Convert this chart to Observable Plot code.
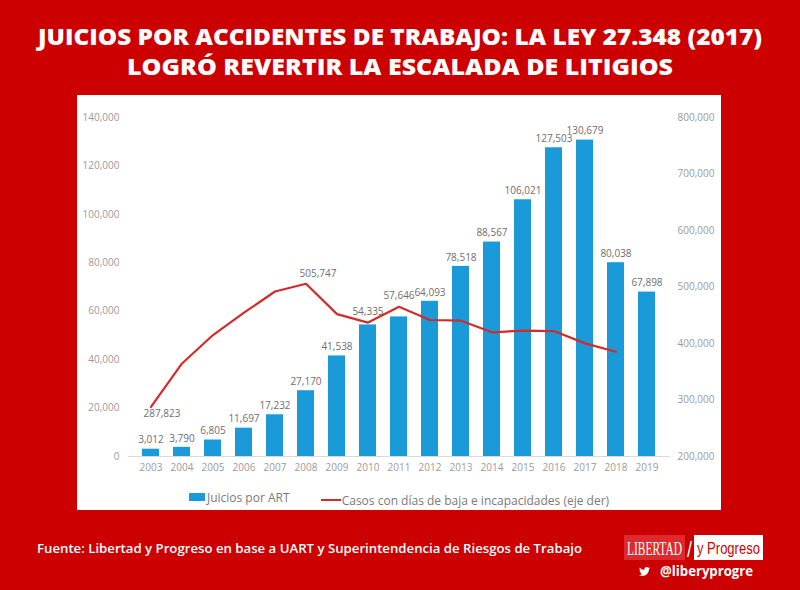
<!DOCTYPE html>
<html>
<head>
<meta charset="utf-8">
<script src="https://cdn.jsdelivr.net/npm/d3@7"></script>
<script src="https://cdn.jsdelivr.net/npm/@observablehq/plot@0.6"></script>
<style>
  html, body { margin: 0; padding: 0; }
  body { width: 800px; height: 590px; background: #cc0000; position: relative; overflow: hidden; font-family: "Open Sans", sans-serif; }
  #title { position: absolute; left: 0; top: 0; }
  #panel { position: absolute; left: 77px; top: 95px; width: 644px; height: 415px; background: #ffffff; }
  #chart { position: absolute; left: 0; top: 0; }
  #legend { position: absolute; left: 0; top: 393px; width: 644px; text-align: center; font-size: 12px; color: #7a7a7a; white-space: nowrap; }
  #legend .item { display: inline-flex; align-items: center; margin: 0 14px; }
  #legend .sw-bar { display: inline-block; width: 16px; height: 8px; background: #1a9ad8; margin-right: 2px; }
  #legend .sw-line { display: inline-block; width: 20px; height: 2px; background: #d42a2a; margin-right: 1px; }
  #source { position: absolute; left: 37px; top: 539px; color: #ffffff; font-size: 13.2px; font-weight: 600; white-space: nowrap; }
  #logo { position: absolute; left: 620px; top: 530px; }
</style>
</head>
<body>
<svg id="title" width="800" height="95">
  <text x="400" y="45" text-anchor="middle" fill="#fff" font-family="Open Sans" font-weight="800" font-size="22" textLength="724" lengthAdjust="spacingAndGlyphs">JUICIOS POR ACCIDENTES DE TRABAJO: LA LEY 27.348 (2017)</text>
  <text x="400" y="75" text-anchor="middle" fill="#fff" font-family="Open Sans" font-weight="800" font-size="22" textLength="546" lengthAdjust="spacingAndGlyphs">LOGRÓ REVERTIR LA ESCALADA DE LITIGIOS</text>
</svg>
<div id="panel">
  <div id="chart"></div>
  <div id="legend">
    <span class="item"><span class="sw-bar"></span>Juicios por ART</span>
    <span class="item"><span class="sw-line"></span>Casos con días de baja e incapacidades (eje der)</span>
  </div>
</div>
<div id="source">Fuente: Libertad y Progreso en base a UART y Superintendencia de Riesgos de Trabajo</div>
<svg id="logo" width="150" height="52">
  <rect x="4" y="5" width="61" height="25" fill="#dd2a2f"/>
  <text class="fit" data-x="7" data-y="25" data-w="55" fill="#fff" font-family="Liberation Serif" font-size="19">LIBERTAD</text>
  <text class="fit" data-x="67" data-y="27" data-w="5" fill="#fff" font-family="Liberation Sans" font-size="22">/</text>
  <rect x="74" y="5" width="69" height="25" fill="#ffffff"/>
  <text class="fit" data-x="77" data-y="24" data-w="63" fill="#cc0000" font-family="Liberation Sans" font-size="17">y Progreso</text>
  <g transform="translate(19,36) scale(0.46)">
    <path fill="#fff" d="M23.953 4.57a10 10 0 01-2.825.775 4.958 4.958 0 002.163-2.723c-.951.555-2.005.959-3.127 1.184a4.92 4.92 0 00-8.384 4.482C7.690 8.095 4.067 6.13 1.64 3.162a4.822 4.822 0 00-.666 2.475c0 1.71.87 3.213 2.188 4.096a4.904 4.904 0 01-2.228-.616v.06a4.923 4.923 0 003.946 4.827 4.996 4.996 0 01-2.212.085 4.936 4.936 0 004.604 3.417 9.867 9.867 0 01-6.102 2.105c-.39 0-.779-.023-1.17-.067a13.995 13.995 0 007.557 2.209c9.053 0 13.998-7.496 13.998-13.985 0-.21 0-.42-.015-.63A9.935 9.935 0 0024 4.59z"/>
  </g>
  <text class="fit" data-x="40" data-y="46" data-w="93" fill="#fff" font-family="Open Sans" font-weight="700" font-size="14">@liberyprogre</text>
</svg>
<script>
const years = ["2003","2004","2005","2006","2007","2008","2009","2010","2011","2012","2013","2014","2015","2016","2017","2018","2019"];
const juicios = [3012, 3790, 6805, 11697, 17232, 27170, 41538, 54335, 57646, 64093, 78518, 88567, 106021, 127503, 130679, 80038, 67898];
const casos = [287823, 364700, 415000, 454600, 492000, 505747, 452000, 437000, 465000, 441600, 440400, 419800, 422700, 422000, 400200, 385300, null];
const leftTicks = [0, 20000, 40000, 60000, 80000, 100000, 120000, 140000];
const rightTicks = [200000, 300000, 400000, 500000, 600000, 700000, 800000];
const lineLabelYears = ["2003", "2008"];

// fit logo texts to their boxes
document.querySelectorAll("#logo text.fit").forEach(el => {
  const w = el.getComputedTextLength();
  const target = +el.dataset.w;
  el.setAttribute("transform", `translate(${el.dataset.x},${el.dataset.y}) scale(${target / w},1)`);
});

const fmt = d3.format(",");
const L0 = leftTicks[0], L1 = leftTicks[leftTicks.length - 1];
const R0 = rightTicks[0], R1 = rightTicks[rightTicks.length - 1];
const toLeft = v => L0 + (v - R0) * (L1 - L0) / (R1 - R0);
const fromLeft = v => R0 + (v - L0) * (R1 - R0) / (L1 - L0);

const bars = years.map((y, i) => ({year: y, value: juicios[i]}));
const line = years.map((y, i) => ({year: y, value: casos[i]})).filter(d => d.value != null)
  .map(d => ({...d, left: toLeft(d.value)}));
const lineByYear = new Map(line.map(d => [d.year, d]));
const maxCasos = d3.max(line, d => d.value);

// bar labels: lifted above the line when the line sits just above the bar top
const barLabels = bars.map(d => {
  const l = lineByYear.get(d.year);
  const lifted = l && l.left > d.value && l.left - d.value < 10000;
  return {...d, anchorY: lifted ? l.left : d.value, lifted};
});
const lineLabels = line.filter(d => lineLabelYears.includes(d.year))
  .map(d => ({...d, above: d.value === maxCasos}));

const chart = Plot.plot({
  width: 644,
  height: 390,
  marginLeft: 51,
  marginRight: 51,
  marginTop: 22,
  marginBottom: 29,
  style: {fontFamily: "Open Sans", background: "transparent"},
  x: {domain: years, paddingInner: 0.44, paddingOuter: 0.22, label: null},
  y: {domain: [L0, L1], label: null},
  marks: [
    Plot.axisY({anchor: "left", ticks: leftTicks, tickFormat: fmt, tickSize: 0, tickPadding: 9, fontSize: 10, color: "#9a9a9a", label: null}),
    Plot.axisY(rightTicks.map(toLeft), {anchor: "right", tickFormat: d => fmt(Math.round(fromLeft(d) / 1000) * 1000), tickSize: 0, tickPadding: 7, fontSize: 10, color: "#9a9a9a", label: null}),
    Plot.axisX({tickSize: 0, tickPadding: 7, fontSize: 10, color: "#9a9a9a", label: null}),
    Plot.barY(bars, {x: "year", y: "value", fill: "#1a9ad8"}),
    Plot.ruleY([0], {stroke: "#d9d9d9", strokeWidth: 1}),
    Plot.line(line, {x: "year", y: "left", stroke: "#d42a2a", strokeWidth: 2.2}),
    Plot.text(barLabels.filter(d => !d.lifted), {x: "year", y: "anchorY", text: d => fmt(d.value), dy: -9, fontSize: 10, fill: "#6e6e6e"}),
    Plot.text(barLabels.filter(d => d.lifted), {x: "year", y: "anchorY", text: d => fmt(d.value), dy: -11, fontSize: 10, fill: "#6e6e6e"}),
    Plot.text(lineLabels.filter(d => d.above), {x: "year", y: "left", text: d => fmt(d.value), dx: 12, dy: -10, fontSize: 10, fill: "#6e6e6e"}),
    Plot.text(lineLabels.filter(d => !d.above), {x: "year", y: "left", text: d => fmt(d.value), dx: 11, dy: 7, fontSize: 10, fill: "#6e6e6e"})
  ]
});
document.getElementById("chart").appendChild(chart);
</script>
</body>
</html>
